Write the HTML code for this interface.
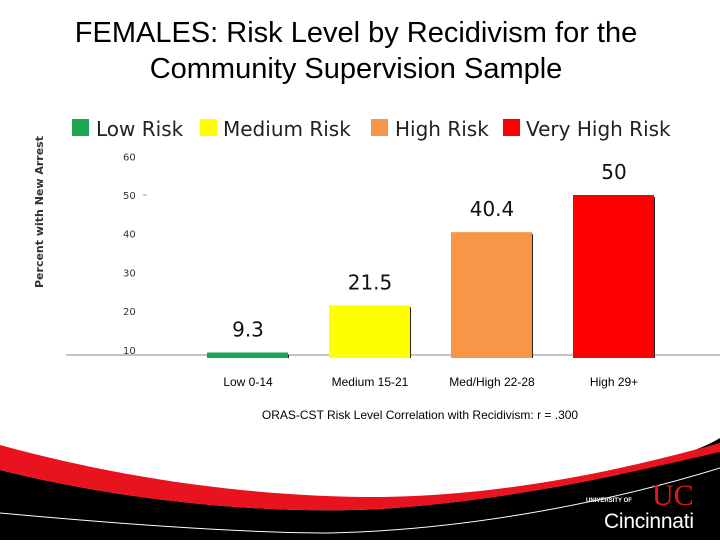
<!DOCTYPE html>
<html><head><meta charset="utf-8"><style>
body{margin:0;width:720px;height:540px;overflow:hidden;background:#fff;font-family:"Liberation Sans",sans-serif}
</style></head><body>
<svg width="720" height="540" xmlns="http://www.w3.org/2000/svg">
<text x="356" y="42" text-anchor="middle" font-size="29" fill="#000">FEMALES: Risk Level by Recidivism for the</text>
<text x="356" y="78" text-anchor="middle" font-size="29" fill="#000">Community Supervision Sample</text>
<g font-family="DejaVu Sans, sans-serif" font-size="20" fill="#222">
<rect x="72" y="119" width="17" height="17" fill="#1ea652"/><text x="96" y="136">Low Risk</text>
<rect x="200" y="119" width="17" height="17" fill="#ffff00"/><text x="223" y="136">Medium Risk</text>
<rect x="371" y="119" width="17" height="17" fill="#f79646"/><text x="395" y="136">High Risk</text>
<rect x="503" y="119" width="17" height="17" fill="#ff0000"/><text x="526" y="136">Very High Risk</text>
</g>
<text transform="translate(43,212) rotate(-90)" text-anchor="middle" font-family="DejaVu Sans, sans-serif" font-weight="bold" font-size="11" fill="#333">Percent with New Arrest</text>
<line x1="66" y1="355" x2="720" y2="355" stroke="#888" stroke-width="1"/>
<line x1="143" y1="195" x2="147" y2="195" stroke="#999"/>
<g id="ticks"></g><g id="bars"></g>
<g font-size="12" fill="#000" id="cats"></g>
<text x="420" y="419" text-anchor="middle" font-size="12" fill="#000">ORAS-CST Risk Level Correlation with Recidivism: r = .300</text>
<g>
<path d="M0,470 C120,500 260,515 380,509 C520,500 640,470 720,452 L720,540 L0,540 Z" fill="#000"/>
<path d="M620,470 C670,460 700,450 720,438 L720,455 C680,465 650,470 620,476 Z" fill="#000"/>
<path d="M0,445 C120,478 250,497 380,497 C520,495 640,465 720,443 L720,452 C640,470 520,500 380,509 C260,515 120,500 0,470 Z" fill="#e8131f"/>
<path d="M0,513 C120,524 240,533 330,533 C460,530 600,505 720,468" fill="none" stroke="#fff" stroke-width="1"/>
</g>
<text x="586" y="502" font-size="6" font-weight="bold" fill="#fff">UNIVERSITY OF</text>
<text x="652" y="505" font-size="30" fill="#e8131f" font-family="Liberation Serif,serif">UC</text>
<text x="604" y="528" font-size="21" fill="#fff" textLength="90">Cincinnati</text>
</svg>
<script>
const categories=["Low 0-14","Medium 15-21","Med/High 22-28","High 29+"];
const values=[9.3,21.5,40.4,50];
const valueLabels=["9.3","21.5","40.4","50"];
const colors=["#1ea652","#ffff00","#f79646","#ff0000"];
const tickVals=[10,20,30,40,50,60];
const NS="http://www.w3.org/2000/svg";
const y=v=>195-(v-50)*3.87;
const x=i=>207+i*122;
const base=358;
const tg=document.getElementById('ticks');
tickVals.forEach(t=>{const e=document.createElementNS(NS,'text');
e.setAttribute('x',123);e.setAttribute('y',y(t)+4);e.setAttribute('font-family','DejaVu Sans, sans-serif');e.setAttribute('font-size','10');e.setAttribute('fill','#333');e.textContent=t;


tg.appendChild(e);});
const bg=document.getElementById('bars');const cg=document.getElementById('cats');
values.forEach((v,i)=>{const top=Math.min(y(v),base-5);
const s=document.createElementNS(NS,'rect');s.setAttribute('x',x(i)+79);s.setAttribute('y',top+2);s.setAttribute('width',3);s.setAttribute('height',base-top-2);s.setAttribute('fill','#222');


bg.appendChild(s);
const r=document.createElementNS(NS,'rect');r.setAttribute('x',x(i));r.setAttribute('y',top);r.setAttribute('width',81);r.setAttribute('height',base-top);r.setAttribute('fill',colors[i]);


bg.appendChild(r);
const l=document.createElementNS(NS,'text');l.setAttribute('x',x(i)+41);l.setAttribute('y',y(v)-16);l.setAttribute('text-anchor','middle');l.setAttribute('font-family','DejaVu Sans, sans-serif');l.setAttribute('font-size','20');l.setAttribute('fill','#111');l.textContent=valueLabels[i];


bg.appendChild(l);
const c=document.createElementNS(NS,'text');c.setAttribute('x',x(i)+41);c.setAttribute('y',386);c.setAttribute('text-anchor','middle');c.textContent=categories[i];


cg.appendChild(c);});
</script>
</body></html>
